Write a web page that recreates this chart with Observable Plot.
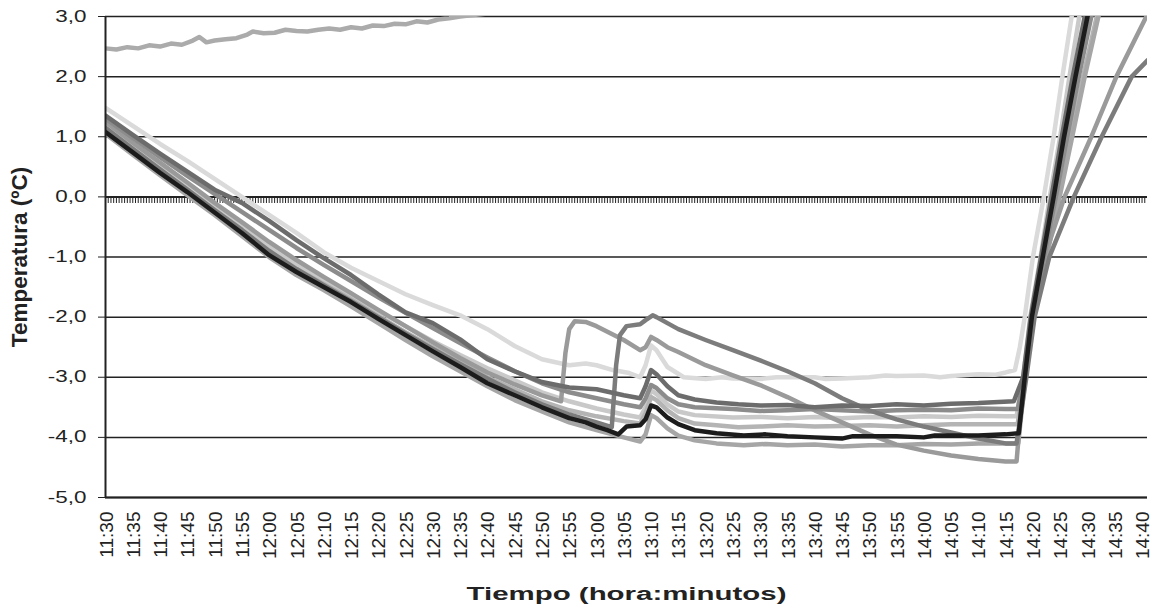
<!DOCTYPE html>
<html><head><meta charset="utf-8">
<script src="https://cdn.jsdelivr.net/npm/d3@7"></script>
<script src="https://cdn.jsdelivr.net/npm/@observablehq/plot@0.6"></script>
<style>
body{margin:0;background:#fff;font-family:"Liberation Sans",Arial,sans-serif}
</style>
</head><body><div id="chart"></div>
<script>
// x = minutes after 11:30
const timeLabels = ["11:30","11:35","11:40","11:45","11:50","11:55","12:00","12:05","12:10","12:15","12:20","12:25","12:30","12:35","12:40","12:45","12:50","12:55","13:00","13:05","13:10","13:15","13:20","13:25","13:30","13:35","13:40","13:45","13:50","13:55","14:00","14:05","14:10","14:15","14:20","14:25","14:30","14:35","14:40"];
const yTicks = [-5,-4,-3,-2,-1,0,1,2,3];

const sTop = [[0,2.47],[2,2.45],[4,2.49],[6,2.47],[8,2.52],[10,2.5],[12,2.55],[14,2.53],[16,2.6],[17.2,2.66],[18.5,2.57],[20,2.6],[22,2.62],[24,2.64],[26,2.7],[27,2.75],[29,2.72],[31,2.73],[33,2.78],[35,2.76],[37,2.75],[39,2.78],[41,2.8],[43,2.78],[45,2.82],[47,2.8],[49,2.85],[51,2.84],[53,2.88],[55,2.87],[57,2.92],[59,2.9],[61,2.95],[63,2.97],[65,3.0],[67,3.02],[70,3.05]];

const sLight = [[0,1.48],[5,1.18],[10,0.88],[15,0.6],[20,0.3],[25,0.0],[30,-0.3],[35,-0.6],[40,-0.92],[45,-1.18],[50,-1.4],[55,-1.62],[60,-1.8],[65,-1.97],[70,-2.2],[75,-2.48],[80,-2.7],[85,-2.8],[88,-2.77],[90,-2.8],[93,-2.88],[96,-2.93],[98,-3.0],[99,-2.8],[100,-2.47],[101,-2.55],[103,-2.83],[106,-3.0],[110,-3.03],[113,-3.0],[115,-3.02],[120,-3.03],[123,-3.0],[125,-3.0],[130,-3.0],[132,-3.03],[135,-3.02],[140,-3.0],[143,-2.97],[145,-2.98],[150,-2.97],[153,-3.0],[155,-2.98],[160,-2.95],[163,-2.96],[165,-2.92],[166.7,-2.88],[167.6,-2.5],[168.5,-2.0],[170,-1.0],[172,0],[173.8,1.0],[175.4,2.0],[177.1,3.0],[179,3.6]];

const sDark = [[0,1.35],[5,1.03],[10,0.72],[15,0.42],[20,0.12],[25,-0.1],[30,-0.4],[35,-0.72],[40,-1.02],[45,-1.3],[50,-1.62],[55,-1.92],[60,-2.1],[65,-2.37],[70,-2.7],[75,-2.9],[80,-3.08],[85,-3.17],[90,-3.2],[95,-3.3],[98,-3.35],[99,-3.15],[100,-2.88],[101,-2.95],[103,-3.15],[105,-3.3],[108,-3.37],[112,-3.42],[116,-3.45],[120,-3.47],[125,-3.46],[130,-3.5],[135,-3.47],[140,-3.48],[145,-3.45],[150,-3.47],[155,-3.44],[160,-3.43],[166.5,-3.4],[168.2,-3.0],[169.6,-2.0],[171.5,-1.0],[173.4,0],[175.3,1.0],[177.3,2.0],[179.5,3.0],[181,3.5]];

const sJump1 = [[0,1.25],[5,0.9],[10,0.57],[15,0.24],[20,-0.1],[25,-0.42],[30,-0.75],[35,-1.05],[40,-1.33],[45,-1.6],[50,-1.88],[55,-2.15],[60,-2.42],[65,-2.68],[70,-2.92],[75,-3.12],[80,-3.3],[83.5,-3.4],[84.3,-2.6],[85,-2.2],[86,-2.07],[88,-2.08],[90,-2.15],[95,-2.38],[98,-2.55],[99,-2.5],[100,-2.33],[101,-2.38],[103,-2.5],[105,-2.58],[110,-2.8],[115,-2.97],[120,-3.13],[125,-3.33],[130,-3.55],[135,-3.75],[140,-3.95],[145,-4.12],[150,-4.22],[155,-4.3],[160,-4.36],[165,-4.4],[167,-4.4],[168.3,-3.0],[169.8,-2.0],[172.1,-1.0],[175.8,0],[180.7,1.0],[185.3,2.0],[190.8,3.0]];

const sJump2 = [[0,1.15],[5,0.8],[10,0.46],[15,0.12],[20,-0.22],[25,-0.55],[30,-0.9],[35,-1.2],[40,-1.47],[45,-1.73],[50,-2.0],[55,-2.27],[60,-2.53],[65,-2.78],[70,-3.02],[75,-3.25],[80,-3.45],[85,-3.62],[90,-3.75],[92.8,-3.83],[93.6,-2.8],[94.3,-2.3],[95.5,-2.15],[98,-2.12],[99,-2.05],[100.3,-1.97],[101,-2.0],[103,-2.1],[105,-2.2],[110,-2.38],[115,-2.55],[120,-2.72],[125,-2.9],[130,-3.1],[135,-3.35],[140,-3.55],[145,-3.7],[150,-3.82],[155,-3.92],[160,-4.02],[165,-4.1],[167,-4.1],[168.8,-3.0],[170.3,-2.0],[173,-1.0],[177.5,0],[182.6,1.0],[188.1,2.0],[191,2.27]];

const sMid = [[0,1.3],[5,0.98],[10,0.66],[15,0.35],[20,0.05],[25,-0.25],[30,-0.55],[35,-0.85],[40,-1.13],[45,-1.4],[50,-1.67],[55,-1.93],[60,-2.18],[65,-2.43],[70,-2.67],[75,-2.9],[80,-3.1],[85,-3.25],[90,-3.35],[95,-3.45],[98,-3.5],[99,-3.35],[100,-3.13],[101,-3.18],[103,-3.35],[105,-3.45],[108,-3.5],[115,-3.53],[120,-3.56],[125,-3.55],[130,-3.53],[135,-3.55],[140,-3.57],[145,-3.55],[150,-3.54],[155,-3.55],[160,-3.52],[165,-3.53],[167.2,-3.53],[168.4,-3.0],[170,-2.0],[172,-1.0],[174.2,0],[176.3,1.0],[178.4,2.0],[180.7,3.0],[182,3.4]];

const sPale = [[0,1.2],[5,0.86],[10,0.52],[15,0.18],[20,-0.15],[25,-0.48],[30,-0.82],[35,-1.12],[40,-1.38],[45,-1.63],[50,-1.9],[55,-2.15],[60,-2.4],[65,-2.63],[70,-2.85],[75,-3.05],[80,-3.25],[85,-3.4],[90,-3.52],[95,-3.62],[98,-3.67],[99,-3.5],[100,-3.22],[101,-3.28],[103,-3.45],[105,-3.57],[108,-3.63],[115,-3.67],[120,-3.66],[125,-3.68],[130,-3.66],[135,-3.68],[140,-3.66],[145,-3.67],[150,-3.65],[155,-3.66],[160,-3.64],[165,-3.65],[167,-3.65],[168.2,-3.0],[169.5,-2.0],[171.4,-1.0],[173.1,0],[175,1.0],[176.7,2.0],[178.5,3.0],[180,3.5]];

const sSilver = [[0,1.12],[5,0.78],[10,0.45],[15,0.12],[20,-0.22],[25,-0.55],[30,-0.9],[35,-1.2],[40,-1.45],[45,-1.7],[50,-1.98],[55,-2.25],[60,-2.5],[65,-2.75],[70,-3.0],[75,-3.2],[80,-3.4],[85,-3.55],[90,-3.65],[95,-3.73],[98,-3.77],[99,-3.6],[100,-3.33],[101,-3.38],[103,-3.55],[105,-3.68],[108,-3.77],[112,-3.8],[116,-3.83],[120,-3.82],[125,-3.8],[130,-3.82],[135,-3.81],[140,-3.8],[145,-3.82],[150,-3.8],[155,-3.78],[160,-3.78],[167.2,-3.78],[168.5,-3.0],[170,-2.0],[172.2,-1.0],[174.6,0],[176.9,1.0],[179.2,2.0],[181.7,3.0],[183,3.4]];

const sBlack = [[0,1.08],[5,0.74],[10,0.4],[15,0.08],[20,-0.26],[25,-0.6],[30,-0.97],[35,-1.25],[40,-1.5],[45,-1.75],[50,-2.03],[55,-2.3],[60,-2.57],[65,-2.83],[70,-3.1],[75,-3.3],[80,-3.5],[85,-3.68],[88,-3.75],[90,-3.82],[92,-3.88],[94,-3.95],[95.5,-3.82],[98,-3.8],[99,-3.7],[100,-3.47],[101,-3.5],[103,-3.67],[105,-3.78],[108,-3.88],[112,-3.93],[117,-3.97],[121,-3.95],[125,-3.98],[130,-4.0],[135,-4.02],[137,-3.98],[140,-3.98],[145,-3.98],[150,-4.0],[152,-3.97],[155,-3.97],[160,-3.97],[165,-3.95],[167.4,-3.93],[168.5,-3.0],[169.8,-2.0],[171.8,-1.0],[173.8,0],[175.7,1.0],[177.8,2.0],[180,3.0],[182,3.6]];

const sLow = [[0,1.05],[5,0.7],[10,0.36],[15,0.03],[20,-0.3],[25,-0.65],[30,-1.0],[35,-1.3],[40,-1.55],[45,-1.82],[50,-2.1],[55,-2.38],[60,-2.65],[65,-2.9],[70,-3.15],[75,-3.38],[80,-3.57],[85,-3.75],[90,-3.88],[95,-4.0],[98,-4.07],[99,-3.95],[100,-3.63],[101,-3.68],[103,-3.85],[105,-3.97],[108,-4.05],[112,-4.1],[117,-4.13],[121,-4.11],[125,-4.13],[130,-4.12],[135,-4.15],[140,-4.13],[145,-4.13],[150,-4.11],[155,-4.12],[160,-4.1],[165,-4.1],[167.3,-4.1],[168.6,-3.0],[170.2,-2.0],[172.5,-1.0],[174.9,0],[177.2,1.0],[179.5,2.0],[182,3.0],[184,3.5]];

const seriesList = [
  {data: sTop, color: "#ababab"},
  {data: sLight, color: "#dadada"},
  {data: sPale, color: "#c9c9c9"},
  {data: sSilver, color: "#b4b4b4"},
  {data: sLow, color: "#a6a6a6"},
  {data: sJump1, color: "#9a9a9a"},
  {data: sMid, color: "#8c8c8c"},
  {data: sJump2, color: "#7c7c7c"},
  {data: sDark, color: "#6c6c6c"},
  {data: sBlack, color: "#1c1c1c"}
];

const tickPos = timeLabels.map((_, i) => i * 5);
const hatch = d3.range(0, 191, 0.5);
const fmtY = d => d.toFixed(1).replace(".", ",");
const yTitle = "Temperatura (ºC)";
const xTitle = "Tiempo (hora:minutos)";

const chart = Plot.plot({
  width: 1152,
  height: 611,
  marginLeft: 105,
  marginRight: 5,
  marginTop: 16,
  marginBottom: 114,
  style: {fontFamily: "'Liberation Sans', Arial, sans-serif", fontSize: "16px", color: "#222", background: "#fff"},
  x: {domain: [0, 191]},
  y: {domain: [-5, 3]},
  marks: [
    Plot.ruleY(yTicks.filter(d => d !== 0), {stroke: "#222", strokeWidth: 1.5}),
    Plot.ruleX(hatch, {x: d => d, y1: 0, y2: -0.11, stroke: "#222", strokeWidth: 1}),
    Plot.ruleY([0], {stroke: "#222", strokeWidth: 2}),
    ...seriesList.map(s => Plot.line(s.data, {x: d => d[0], y: d => d[1], stroke: s.color, strokeWidth: 4.5, strokeLinejoin: "round", clip: true})),
    Plot.ruleX([0], {stroke: "#222", strokeWidth: 2}),
    Plot.ruleY([-5], {stroke: "#222", strokeWidth: 2}),
    Plot.axisY({ticks: yTicks, tickFormat: fmtY, tickSize: 7, tickPadding: 12, fontSize: 16, label: null, stroke: "#222"}),
    Plot.axisX({ticks: tickPos, tickFormat: (d, i) => timeLabels[i], tickSize: 0, tickPadding: 14, tickRotate: -90, fontSize: 19, label: null, dx: 1}),
    Plot.text([yTitle], {frameAnchor: "left", dx: -86, rotate: -90, textAnchor: "middle", fontSize: 22.5, fontWeight: "bold", fill: "#222"}),
    Plot.text([xTitle], {frameAnchor: "bottom", dy: 102, textAnchor: "middle", fontSize: 19, fontWeight: "bold", fill: "#222"})
  ]
});
document.getElementById("chart").appendChild(chart);

// horizontal stretch of the horizontal texts, as in the reference picture
function stretchAt(el, s, mode) {
  const svg = el.ownerSVGElement;
  const r = el.getBoundingClientRect(), sr = svg.getBoundingClientRect();
  const ax = (mode === "right" ? r.right : (r.left + r.right) / 2) - sr.left;
  const m = el.parentNode.getCTM();
  const px = (ax - m.e) / m.a;
  const g = document.createElementNS("http://www.w3.org/2000/svg", "g");
  g.setAttribute("transform", `translate(${px},0) scale(${s},1) translate(${-px},0)`);
  el.parentNode.insertBefore(g, el);
  g.appendChild(el);
}
const yLabelSet = new Set(yTicks.map(fmtY));
Array.from(chart.querySelectorAll("text")).forEach(t => {
  const s = t.textContent;
  if (yLabelSet.has(s)) stretchAt(t, 1.4, "right");
  else if (s === xTitle) stretchAt(t, 1.55, "center");
});
</script>
</body></html>
